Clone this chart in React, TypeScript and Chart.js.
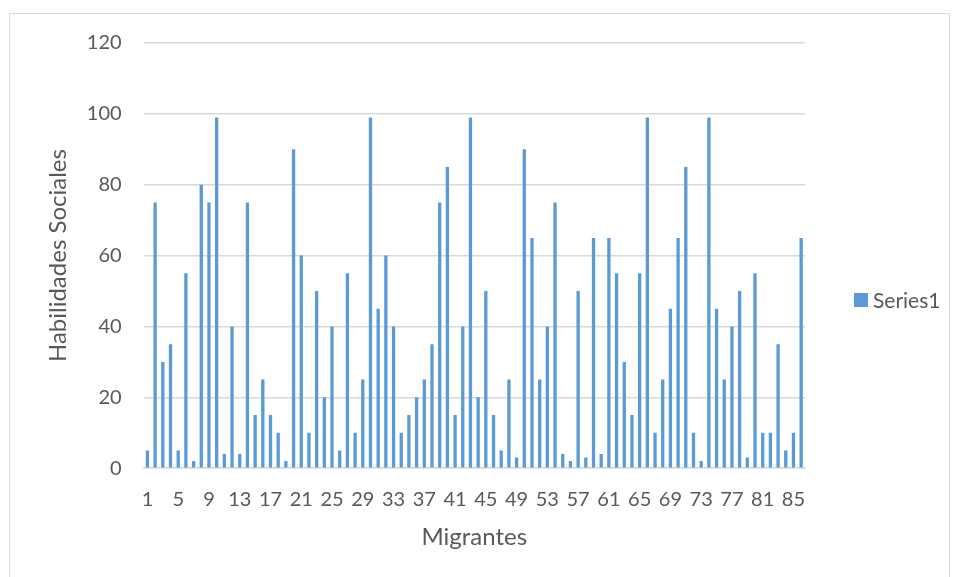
import React, { useEffect, useRef } from "react";
import { Chart, registerables } from "chart.js";

Chart.register(...registerables);

const categories: string[] = Array.from({ length: 86 }, (_, i) => String(i + 1));
const seriesLabel = "Series1";
const seriesValues: number[] = [
  5, 75, 30, 35, 5, 55, 2, 80, 75, 99,
  4, 40, 4, 75, 15, 25, 15, 10, 2, 90,
  60, 10, 50, 20, 40, 5, 55, 10, 25, 99,
  45, 60, 40, 10, 15, 20, 25, 35, 75, 85,
  15, 40, 99, 20, 50, 15, 5, 25, 3, 90,
  65, 25, 40, 75, 4, 2, 50, 3, 65, 4,
  65, 55, 30, 15, 55, 99, 10, 25, 45, 65,
  85, 10, 2, 99, 45, 25, 40, 50, 3, 55,
  10, 10, 35, 5, 10, 65,
];
const yTitle = "Habilidades Sociales";
const xTitle = "Migrantes";
const barColor = "#5b9bd5";
const textColor = "#595959";
const gridColor = "#d9d9d9";
const FONT = "Lato, 'Open Sans', sans-serif";

export default function App() {
  const ref = useRef<HTMLCanvasElement | null>(null);

  useEffect(() => {
    if (!ref.current) return;
    const chart = new Chart(ref.current, {
      type: "bar",
      data: {
        labels: categories,
        datasets: [
          {
            label: seriesLabel,
            data: seriesValues,
            backgroundColor: barColor,
            barPercentage: 0.43,
            categoryPercentage: 1,
          },
        ],
      },
      options: {
        animation: false,
        responsive: false,
        layout: { padding: { left: 34, right: 144, top: 29, bottom: 25 } },
        plugins: { legend: { display: false }, tooltip: { enabled: false } },
        scales: {
          x: {
            grid: { display: false, drawTicks: false },
            border: { display: true, color: gridColor, width: 1.5 },
            ticks: {
              autoSkip: false,
              maxRotation: 0,
              minRotation: 0,
              padding: 19,
              color: textColor,
              font: { family: FONT, size: 20 },
              callback: (_v: any, i: number) => (i % 4 === 0 ? categories[i] : ""),
            },
            title: {
              display: true,
              text: xTitle,
              color: textColor,
              font: { family: FONT, size: 24 },
              padding: { top: -7, bottom: 0 },
            },
          },
          y: {
            min: 0,
            max: 120,
            grid: { color: gridColor, lineWidth: 1.5, drawTicks: false },
            border: { display: false },
            ticks: {
              stepSize: 20,
              padding: 22,
              color: textColor,
              font: { family: FONT, size: 20, lineHeight: 0.7 },
            },
            title: {
              display: true,
              text: yTitle,
              color: textColor,
              font: { family: FONT, size: 24 },
              padding: { top: 0, bottom: -8 },
            },
          },
        },
      },
    });
    return () => chart.destroy();
  }, []);

  return (
    <div
      style={{
        position: "absolute",
        left: 9,
        top: 13,
        width: 939,
        height: 564,
        borderLeft: "1px solid #d9d9d9",
        borderTop: "1px solid #d9d9d9",
        borderRight: "1px solid #d9d9d9",
        background: "#fff",
      }}
    >
      <canvas ref={ref} width={939} height={563} style={{ display: "block" }} />
      <div
        style={{
          position: "absolute",
          left: 844,
          top: 279,
          height: 14,
          display: "flex",
          alignItems: "center",
          fontFamily: FONT,
          fontSize: 21,
          lineHeight: "14px",
          color: textColor,
          whiteSpace: "nowrap",
        }}
      >
        <span
          style={{
            display: "inline-block",
            width: 14,
            height: 14,
            background: barColor,
            marginRight: 5,
          }}
        />
        {seriesLabel}
      </div>
    </div>
  );
}
